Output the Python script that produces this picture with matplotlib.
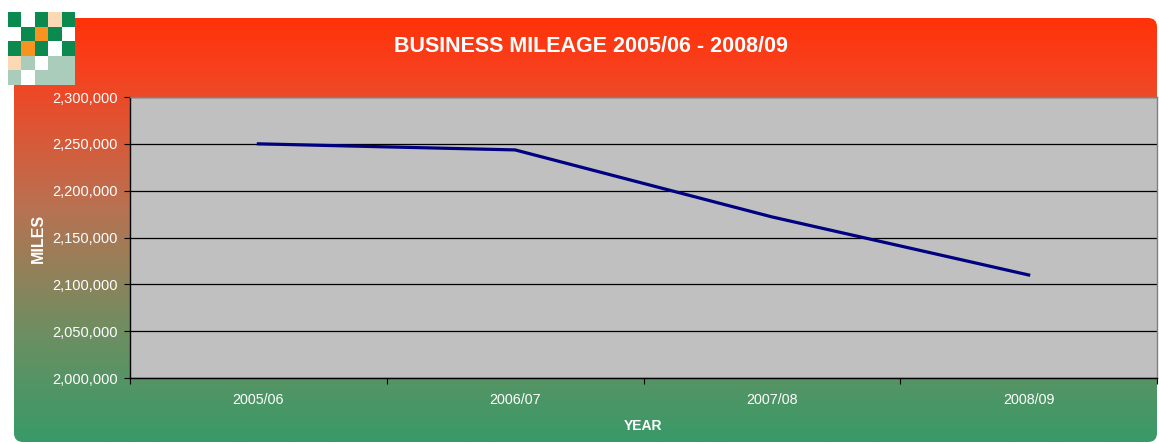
import numpy as np
import matplotlib
matplotlib.use("Agg")
import matplotlib.pyplot as plt
from matplotlib.colors import LinearSegmentedColormap, to_rgb
from matplotlib.patches import FancyBboxPatch
from matplotlib.ticker import FuncFormatter, MultipleLocator, FixedLocator

plt.rcParams['font.family'] = ['Liberation Sans', 'DejaVu Sans']

# data
years = ["2005/06", "2006/07", "2007/08", "2008/09"]
miles = [2250000, 2243500, 2172000, 2110000]

W, H = 1159, 444
fig = plt.figure(figsize=(W / 100, H / 100), dpi=100)
fig.patch.set_facecolor("white")

# rounded gradient background panel
bg = fig.add_axes([0, 0, 1, 1], zorder=0)
bg.set_xlim(0, W)
bg.set_ylim(H, 0)
bg.axis("off")
cmap = LinearSegmentedColormap.from_list(
    "panel", [(0.0, "#FF3208"), (0.12, "#F8401E"), (0.45, "#B87252"),
              (0.75, "#6C8F62"), (1.0, "#389A68")])
grad = np.linspace(0, 1, 256).reshape(-1, 1)
im = bg.imshow(grad, cmap=cmap, aspect="auto", extent=[14, 1157, 442, 18])
panel = FancyBboxPatch((14, 18), 1143, 424, boxstyle="round,pad=0,rounding_size=9",
                       transform=bg.transData, facecolor="none", edgecolor="none")
bg.add_patch(panel)
im.set_clip_path(panel)

# logo
G, Wt, O, P, L = "#0A8A4E", "#FFFFFF", "#F7931E", "#FBD9B4", "#A9CDBA"
logo = [[G, Wt, G, P, G],
        [Wt, G, O, G, Wt],
        [G, O, G, Wt, G],
        [P, L, Wt, L, L],
        [L, Wt, L, L, L]]
lg = fig.add_axes([8 / W, 1 - 85 / H, 67 / W, 73 / H], zorder=3)
lg.imshow(np.array([[to_rgb(c) for c in row] for row in logo]), aspect="auto",
          interpolation="nearest")
lg.axis("off")

# plot area
ax = fig.add_axes([130 / W, 1 - 378 / H, 1027 / W, 281 / H], zorder=2)
ax.set_facecolor("#C0C0C0")
x = np.arange(len(years)) + 0.5
ax.plot(x, miles, color="#000080", linewidth=2.3, zorder=3)

ax.set_xlim(0, len(years))
ax.set_ylim(2000000, 2300000)
ax.yaxis.set_major_locator(MultipleLocator(50000))
ax.yaxis.set_major_formatter(FuncFormatter(lambda v, p: f"{int(v):,}"))
ax.grid(axis="y", color="black", linewidth=0.9, zorder=1)
ax.set_axisbelow(True)

ax.xaxis.set_major_locator(FixedLocator(range(len(years) + 1)))
ax.xaxis.set_minor_locator(FixedLocator(x))
ax.set_xticklabels([])
ax.set_xticklabels(years, minor=True)
ax.tick_params(axis="x", which="major", length=4, width=0.8, color="black")
ax.tick_params(axis="x", which="minor", length=0, pad=11, labelsize=10.3, labelcolor="white")
ax.tick_params(axis="y", length=4, width=0.8, color="black", pad=5,
               labelsize=10.5, labelcolor="white")

for s in ["left", "bottom"]:
    ax.spines[s].set_color("black")
    ax.spines[s].set_linewidth(1)
for s in ["top", "right"]:
    ax.spines[s].set_color("#808080")
    ax.spines[s].set_linewidth(1)

fig.text(591 / W, 1 - 46 / H, "BUSINESS MILEAGE 2005/06 - 2008/09", color="white",
         fontsize=15.5, fontweight="bold", ha="center", va="center")
fig.text(38 / W, 1 - 238 / H, "MILES", color="white", fontsize=11.5, fontweight="bold",
         rotation=90, ha="center", va="center")
fig.text(643 / W, 1 - 426 / H, "YEAR", color="white", fontsize=10, fontweight="bold",
         ha="center", va="center")

fig.savefig("out.png", dpi=100)
